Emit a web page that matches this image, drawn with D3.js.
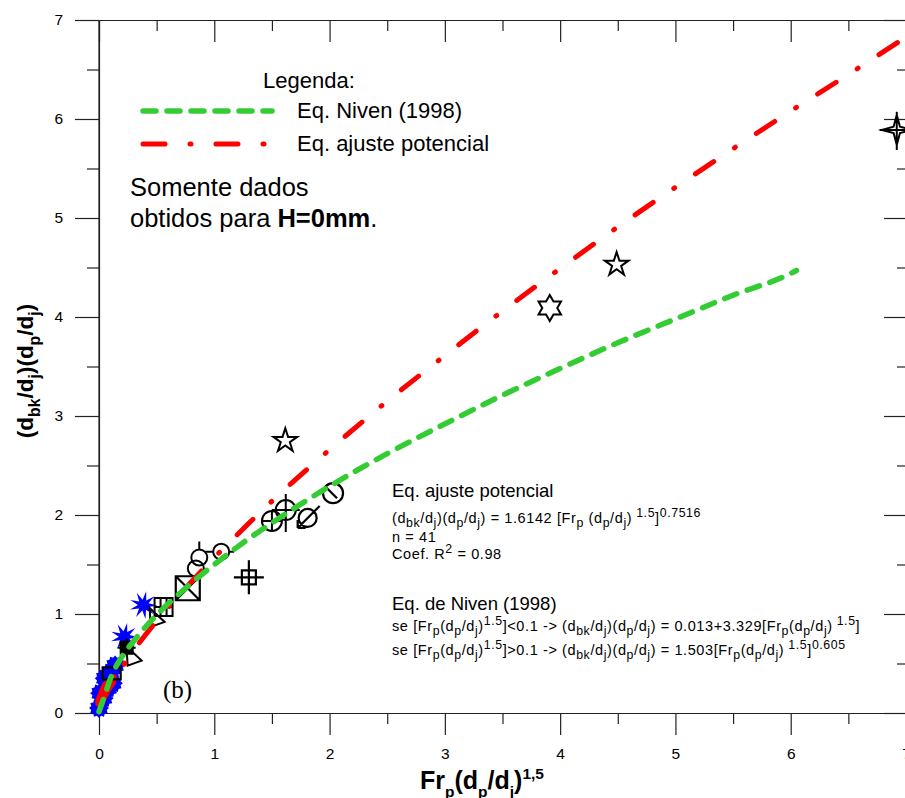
<!DOCTYPE html>
<html>
<head>
<meta charset="utf-8">
<script src="https://cdn.jsdelivr.net/npm/d3@7"></script>
<style>
html,body{margin:0;padding:0;background:#fff;}
svg{display:block;font-family:"Liberation Sans",Arial,sans-serif;}
</style>
</head>
<body>
<svg id="chart" width="905" height="798"></svg>
<script>
// ---------- data ----------
const xTickValues = [0, 1, 2, 3, 4, 5, 6, 7];
const yTickValues = [0, 1, 2, 3, 4, 5, 6, 7];
const minorTickValues = [0.5, 1.5, 2.5, 3.5, 4.5, 5.5, 6.5];

// Eq. Niven (1998) curve (green dashed)
const nivenX = [0, 0.05, 0.1, 0.2, 0.3, 0.5, 0.75, 1, 1.25, 1.5, 2, 2.5, 3, 3.5, 4, 4.5, 5, 5.5, 6, 6.05];
const nivenY = [0.013, 0.18, 0.35, 0.57, 0.725, 0.99, 1.26, 1.50, 1.72, 1.92, 2.29, 2.62, 2.92, 3.21, 3.48, 3.74, 3.98, 4.22, 4.44, 4.47];

// Eq. ajuste potencial curve (red dash-dot)
const ajusteX = [0.02, 0.05, 0.1, 0.2, 0.3, 0.5, 0.75, 1, 1.25, 1.5, 2, 2.5, 3, 3.5, 4, 4.5, 5, 5.5, 6, 6.5, 6.95];
const ajusteY = [0.08, 0.16, 0.27, 0.46, 0.63, 0.93, 1.26, 1.57, 1.86, 2.14, 2.66, 3.15, 3.61, 4.06, 4.49, 4.91, 5.31, 5.70, 6.08, 6.45, 6.79];

// measured points
const pointX = [0.00, 0.04, 0.08, 0.01, 0.10, 0.14, 0.05, 0.12,
                0.02, 0.10, 0.05,
                0.385, 0.22,
                0.24, 0.11, 0.30, 0.50,
                0.56, 0.77, 0.84, 0.87, 1.06,
                1.30, 1.50, 1.62, 1.81, 2.03,
                1.616, 3.91, 4.49, 6.92];
const pointY = [0.05, 0.15, 0.25, 0.20, 0.41, 0.48, 0.35, 0.30,
                0.16, 0.30, 0.25,
                1.09, 0.77,
                0.66, 0.40, 0.57, 0.96,
                1.07, 1.26, 1.46, 1.57, 1.63,
                1.37, 1.94, 2.05, 1.97, 2.22,
                2.75, 4.09, 4.53, 5.89];
const pointType = ["blueDot", "blueDot", "blueDot", "blueDot", "blueDot", "blueDot", "blueDot", "blueDot",
                   "redDot", "redDot", "redDot",
                   "blueStar", "blueStar",
                   "blackFill", "sq", "tri", "tri",
                   "sqGrid", "sqX", "circ", "circTick", "circDash",
                   "gridPlus", "circPlus", "circCross", "circArrow", "circSlash",
                   "star5", "star6", "star5", "star4x"];

// ---------- drawing ----------
const svg = d3.select("#chart");
const x = d3.scaleLinear().domain([0, 7]).range([99, 906]);
const y = d3.scaleLinear().domain([0, 7]).range([713, 20]);

const axisColor = "#222";

const gx = svg.append("g").attr("transform", `translate(0,${y(0)})`)
  .call(d3.axisBottom(x).tickValues(xTickValues).tickSize(22).tickSizeOuter(0).tickPadding(13).tickFormat(d3.format("d")));
const gxm = svg.append("g").attr("transform", `translate(0,${y(0)})`)
  .call(d3.axisBottom(x).tickValues(minorTickValues).tickSize(11).tickSizeOuter(0).tickFormat(""));
const gy = svg.append("g").attr("transform", `translate(${x(0)},0)`)
  .call(d3.axisLeft(y).tickValues(yTickValues).tickSize(24).tickSizeOuter(0).tickPadding(12).tickFormat(d3.format("d")));
const gym = svg.append("g").attr("transform", `translate(${x(0)},0)`)
  .call(d3.axisLeft(y).tickValues(minorTickValues).tickSize(12).tickSizeOuter(0).tickFormat(""));
const gt = svg.append("g").attr("transform", `translate(0,${y(7)})`)
  .call(d3.axisBottom(x).tickValues(xTickValues).tickSize(22).tickSizeOuter(0).tickFormat(""));
const gtm = svg.append("g").attr("transform", `translate(0,${y(7)})`)
  .call(d3.axisBottom(x).tickValues(minorTickValues).tickSize(11).tickSizeOuter(0).tickFormat(""));
const gr = svg.append("g").attr("transform", `translate(${x(7)},0)`)
  .call(d3.axisLeft(y).tickValues(yTickValues).tickSize(22).tickSizeOuter(0).tickFormat(""));
const grm = svg.append("g").attr("transform", `translate(${x(7)},0)`)
  .call(d3.axisLeft(y).tickValues(minorTickValues).tickSize(9).tickSizeOuter(0).tickFormat(""));

[gx, gxm, gy, gym, gt, gtm, gr, grm].forEach(g => {
  g.selectAll("path.domain").attr("stroke", axisColor).attr("stroke-width", 1.2);
  g.selectAll(".tick line").attr("stroke", axisColor).attr("stroke-width", 1.2);
  g.selectAll(".tick text").attr("fill", "#000")
    .attr("font-family", "'Liberation Sans', Arial, sans-serif").attr("font-size", 15.5);
});
gy.select("path.domain").attr("d", `M0,${y(7)}V${y(0)}`);

// ---------- markers ----------
const markers = svg.append("g");
const pts = pointX.map((v, i) => ({x: v, y: pointY[i], t: pointType[i]}));

function starPath(n, ro, ri, rot) {
  const p = d3.path();
  for (let k = 0; k < 2 * n; k++) {
    const r = k % 2 === 0 ? ro : ri;
    const a = rot + Math.PI * k / n;
    const px = r * Math.sin(a), py = -r * Math.cos(a);
    if (k === 0) p.moveTo(px, py); else p.lineTo(px, py);
  }
  p.closePath();
  return p.toString();
}
function circlePath(r, cx = 0, cy = 0) {
  const p = d3.path();
  p.moveTo(cx + r, cy); p.arc(cx, cy, r, 0, 2 * Math.PI);
  return p.toString();
}
const shapes = {
  blueDot: g => g.append("path").attr("d", starPath(12, 10, 8, 0)).attr("fill", "#0000ff"),
  redDot: g => g.append("ellipse").attr("rx", 4.5).attr("ry", 10).attr("transform", "rotate(28)").attr("fill", "#ff0000"),
  blueStar: g => g.append("path").attr("d", starPath(9, 14, 5.5, 0.2)).attr("fill", "#0000ff"),
  blackFill: g => g.append("path").attr("d", "M-6,-6H6V6H-6Z M-9,0H9 M0,-9V9").attr("fill", "#000").attr("stroke", "#000").attr("stroke-width", 2),
  sq: g => g.append("path").attr("d", "M-9,-6H9V6H-9Z").attr("fill", "none").attr("stroke", "#000").attr("stroke-width", 2.2),
  tri: g => g.append("path").attr("d", "M-7,-10L8,4L-6,9Z").attr("fill", "none").attr("stroke", "#000").attr("stroke-width", 2),
  sqGrid: g => g.append("path").attr("d", "M-9,-9H9V9H-9Z M-3,-9V9 M3,-9V9 M-9,0H9").attr("fill", "none").attr("stroke", "#000").attr("stroke-width", 2),
  sqX: g => g.append("path").attr("d", "M-12,-12H12V12H-12Z M-12,-12L12,12 M12,-12L-12,12").attr("fill", "none").attr("stroke", "#000").attr("stroke-width", 2.2),
  circ: g => g.append("path").attr("d", circlePath(8)).attr("fill", "none").attr("stroke", "#000").attr("stroke-width", 2),
  circTick: g => g.append("path").attr("d", circlePath(8) + " M0,-8V-16").attr("fill", "none").attr("stroke", "#000").attr("stroke-width", 2),
  circDash: g => g.append("path").attr("d", circlePath(8) + " M-8,0H-16 M8,0H13").attr("fill", "none").attr("stroke", "#000").attr("stroke-width", 2),
  gridPlus: g => g.append("path").attr("d", "M-7,-7H7V7H-7Z M-15,0H15 M0,-17V17").attr("fill", "none").attr("stroke", "#000").attr("stroke-width", 2.2),
  circPlus: g => g.append("path").attr("d", circlePath(10) + " M-10,0H10 M0,-10V10").attr("fill", "none").attr("stroke", "#000").attr("stroke-width", 2),
  circCross: g => g.append("path").attr("d", circlePath(10) + " M-14,0H14 M0,-16V22").attr("fill", "none").attr("stroke", "#000").attr("stroke-width", 2),
  circArrow: g => g.append("path").attr("d", circlePath(9) + " M12,-12L-10,10 M-10,10L-10,2 M-10,10L-2,10").attr("fill", "none").attr("stroke", "#000").attr("stroke-width", 2.2),
  circSlash: g => g.append("path").attr("d", circlePath(10) + " M-7,-6L4,5").attr("fill", "none").attr("stroke", "#000").attr("stroke-width", 2.2),
  star5: g => g.append("path").attr("d", d3.symbol(d3.symbolStar).size(175)()).attr("fill", "none").attr("stroke", "#000").attr("stroke-width", 2),
  star6: g => g.append("path").attr("d", starPath(6, 13, 7.5, 0)).attr("fill", "none").attr("stroke", "#000").attr("stroke-width", 2),
  star4x: g => g.append("path").attr("d", starPath(4, 15, 4.5, 0) + " M-17,0H17 M0,-18V20").attr("fill", "none").attr("stroke", "#000").attr("stroke-width", 2)
};
pts.forEach(d => {
  const g = markers.append("g").attr("transform", `translate(${x(d.x)},${y(d.y)})`);
  shapes[d.t](g);
});

// ---------- curves ----------
const line = d3.line().x(d => x(d[0])).y(d => y(d[1])).curve(d3.curveMonotoneX);
svg.append("path")
  .attr("d", line(ajusteX.map((v, i) => [v, ajusteY[i]])))
  .attr("fill", "none").attr("stroke", "#ff0000").attr("stroke-width", 5)
  .attr("stroke-linecap", "round").attr("stroke-dasharray", "22,25,1,25");
svg.append("path")
  .attr("d", line(nivenX.map((v, i) => [v, nivenY[i]])))
  .attr("fill", "none").attr("stroke", "#33cc33").attr("stroke-width", 5.5)
  .attr("stroke-linecap", "round").attr("stroke-dasharray", "13,11");

// ---------- text helper ----------
function rich(parent, px, py, segs, size, extra, subScale = 0.85) {
  const t = parent.append("text").attr("x", px).attr("y", py)
    .attr("font-size", size).attr("fill", "#000");
  if (extra) Object.entries(extra).forEach(([k, v]) => t.attr(k, v));
  let cur = 0;
  segs.forEach(s => {
    const [str, mode] = Array.isArray(s) ? s : [s, ""];
    const off = mode === "sub" ? size * 0.3 : mode === "sup" ? -size * 0.42 : 0;
    t.append("tspan").attr("dy", off - cur).attr("font-size", mode ? size * subScale : size).text(str);
    cur = off;
  });
  return t;
}

// ---------- legend ----------
const leg = svg.append("g");
leg.append("text").attr("x", 263).attr("y", 88).attr("font-size", 22).text("Legenda:");
leg.append("line").attr("x1", 143).attr("x2", 272).attr("y1", 111).attr("y2", 111)
  .attr("stroke", "#33cc33").attr("stroke-width", 5.5).attr("stroke-linecap", "round").attr("stroke-dasharray", "13,11");
leg.append("text").attr("x", 297).attr("y", 118).attr("font-size", 22).text("Eq. Niven (1998)");
leg.append("line").attr("x1", 143).attr("x2", 268).attr("y1", 144).attr("y2", 144)
  .attr("stroke", "#ff0000").attr("stroke-width", 5).attr("stroke-linecap", "round").attr("stroke-dasharray", "22,25,1,25");
leg.append("text").attr("x", 297).attr("y", 151).attr("font-size", 22).text("Eq. ajuste potencial");

const note = svg.append("g");
note.append("text").attr("x", 130).attr("y", 196).attr("font-size", 25.5).text("Somente dados");
const n2 = note.append("text").attr("x", 130).attr("y", 227).attr("font-size", 25.5);
n2.append("tspan").text("obtidos para ");
n2.append("tspan").attr("font-weight", "bold").text("H=0mm");
n2.append("tspan").text(".");

// ---------- equations annotation ----------
const ann = svg.append("g");
const ls = {"letter-spacing": 0.6};
ann.append("text").attr("x", 392).attr("y", 497).attr("font-size", 18.5).text("Eq. ajuste potencial");
rich(ann, 392, 523, ["(d", ["bk", "sub"], "/d", ["j", "sub"], ")(d", ["p", "sub"], "/d", ["j", "sub"], ") = 1.6142 [Fr", ["p", "sub"], " (d", ["p", "sub"], "/d", ["j", "sub"], ")", [" 1.5", "sup"], "]", ["0.7516", "sup"]], 14.5, ls);
ann.append("text").attr("x", 392).attr("y", 542).attr("font-size", 14.5).attr("letter-spacing", 0.6).text("n = 41");
rich(ann, 392, 559, ["Coef. R", ["2", "sup"], " = 0.98"], 14.5, ls);
ann.append("text").attr("x", 392).attr("y", 610).attr("font-size", 18.5).text("Eq. de Niven (1998)");
rich(ann, 392, 631, ["se [Fr", ["p", "sub"], "(d", ["p", "sub"], "/d", ["j", "sub"], ")", ["1.5", "sup"], "]<0.1 -> (d", ["bk", "sub"], "/d", ["j", "sub"], ")(d", ["p", "sub"], "/d", ["j", "sub"], ") = 0.013+3.329[Fr", ["p", "sub"], "(d", ["p", "sub"], "/d", ["j", "sub"], ")", [" 1.5", "sup"], "]"], 14.5, ls);
rich(ann, 392, 655, ["se [Fr", ["p", "sub"], "(d", ["p", "sub"], "/d", ["j", "sub"], ")", ["1.5", "sup"], "]>0.1 -> (d", ["bk", "sub"], "/d", ["j", "sub"], ")(d", ["p", "sub"], "/d", ["j", "sub"], ") = 1.503[Fr", ["p", "sub"], "(d", ["p", "sub"], "/d", ["j", "sub"], ")", [" 1.5", "sup"], "]", ["0.605", "sup"]], 14.5, ls);

svg.append("text").attr("x", 163).attr("y", 698).attr("font-size", 25)
  .attr("font-family", "'Liberation Serif', 'Times New Roman', serif").text("(b)");

// ---------- axis titles ----------
rich(svg, 482, 789, ["Fr", ["p", "sub"], "(d", ["p", "sub"], "/d", ["j", "sub"], ")", ["1,5", "sup"]], 25,
  {"font-weight": "bold", "text-anchor": "middle"}, 0.62);
rich(svg, 0, 0, ["(d", ["bk", "sub"], "/d", ["j", "sub"], ")(d", ["p", "sub"], "/d", ["j", "sub"], ")"], 22.5,
  {"font-weight": "bold", "text-anchor": "middle", "transform": "translate(33,371) rotate(-90)"}, 0.7);
</script>
</body>
</html>
